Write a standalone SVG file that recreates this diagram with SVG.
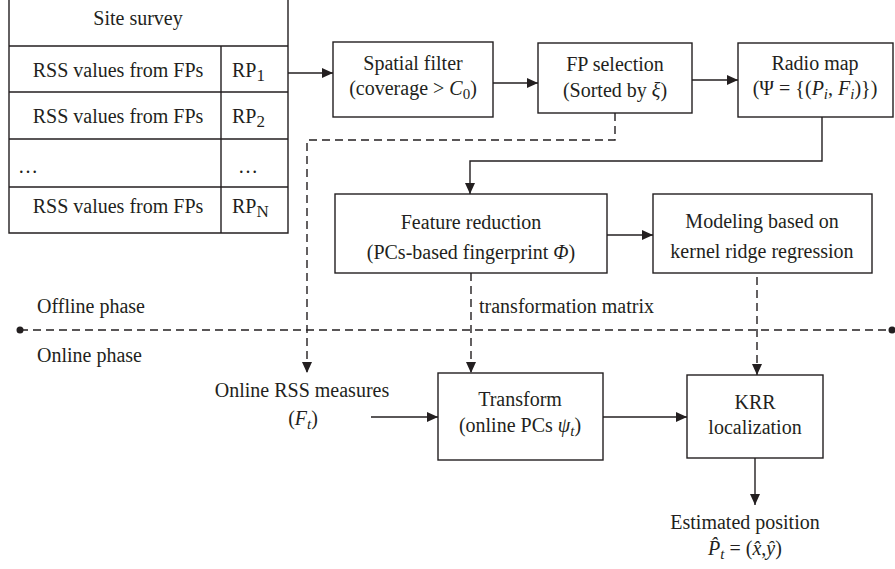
<svg xmlns="http://www.w3.org/2000/svg" width="895" height="569" viewBox="0 0 895 569">
<style>
text{font-family:'Liberation Serif','DejaVu Serif',serif;font-size:20px;fill:#231f20}
.c{text-anchor:middle}
.i{font-style:italic}
.box{fill:#fff;stroke:#231f20;stroke-width:1.4}
.ln{fill:none;stroke:#231f20;stroke-width:1.4}
.dash{fill:none;stroke:#231f20;stroke-width:1.4;stroke-dasharray:8,5}
</style>
<defs>
<marker id="ah" markerUnits="userSpaceOnUse" markerWidth="11" markerHeight="10" refX="11" refY="5" orient="auto">
<path d="M0,0 L11,5 L0,10 z" fill="#231f20"/>
</marker>
</defs>
<rect width="895" height="569" fill="#fff"/>

<g id="site-survey">
<path class="ln" d="M9,0 V233 H288 V0"/>
<path class="ln" d="M9,46 H288 M9,92 H288 M9,139 H288 M9,187 H288 M221,46 V233"/>
<text x="138" y="25" class="c">Site survey</text>
<text x="118" y="77" class="c">RSS values from FPs</text>
<text x="118" y="123" class="c">RSS values from FPs</text>
<text x="18" y="173">…</text>
<text x="248" y="173" class="c">…</text>
<text x="118" y="213" class="c">RSS values from FPs</text>
<text x="232" y="77">RP<tspan dy="4" font-size="17">1</tspan></text>
<text x="232" y="123">RP<tspan dy="4" font-size="17">2</tspan></text>
<text x="232" y="213">RP<tspan dy="4" font-size="17">N</tspan></text>
</g>

<g id="spatial-filter">
<rect class="box" x="333" y="42" width="160" height="75"/>
<text x="413" y="70" class="c">Spatial filter</text>
<text x="413" y="95" class="c">(coverage &gt; <tspan class="i">C</tspan><tspan dy="4" font-size="15">0</tspan><tspan dy="-4">)</tspan></text>
</g>

<g id="fp-selection">
<rect class="box" x="538" y="43" width="154" height="70"/>
<text x="615" y="71" class="c">FP selection</text>
<text x="615" y="97" class="c">(Sorted by <tspan class="i">ξ</tspan>)</text>
</g>

<g id="radio-map">
<rect class="box" x="738" y="43" width="155" height="74"/>
<text x="815" y="70" class="c">Radio map</text>
<text x="815" y="95" class="c">(Ψ = {(<tspan class="i">P</tspan><tspan class="i" dy="4" font-size="15">i</tspan><tspan dy="-4">, </tspan><tspan class="i">F</tspan><tspan class="i" dy="4" font-size="15">i</tspan><tspan dy="-4">)})</tspan></text>
</g>

<g id="feature-reduction">
<rect class="box" x="335" y="194" width="272" height="79"/>
<text x="471" y="229" class="c">Feature reduction</text>
<text x="471" y="259" class="c">(PCs-based fingerprint <tspan class="i">Φ</tspan>)</text>
</g>

<g id="modeling">
<rect class="box" x="653" y="194" width="219" height="79"/>
<text x="762" y="228" class="c">Modeling based on</text>
<text x="762" y="258" class="c">kernel ridge regression</text>
</g>

<g id="phases">
<text x="37" y="313">Offline phase</text>
<text x="37" y="362">Online phase</text>
<text x="479" y="313">transformation matrix</text>
</g>

<g id="online-rss">
<text x="302" y="397" class="c">Online RSS measures</text>
<text x="303" y="425" class="c">(<tspan class="i">F</tspan><tspan class="i" dy="4" font-size="15">t</tspan><tspan dy="-4">)</tspan></text>
</g>

<g id="transform">
<rect class="box" x="438" y="373" width="165" height="87"/>
<text x="520" y="406" class="c">Transform</text>
<text x="520" y="432" class="c">(online PCs <tspan class="i">ψ</tspan><tspan class="i" dy="4" font-size="15">t</tspan><tspan dy="-4">)</tspan></text>
</g>

<g id="krr">
<rect class="box" x="687" y="375" width="136" height="83"/>
<text x="755" y="409" class="c">KRR</text>
<text x="755" y="434" class="c">localization</text>
</g>

<g id="estimated">
<text x="745" y="529" class="c">Estimated position</text>
<text x="745" y="555" class="c"><tspan class="i">P̂</tspan><tspan class="i" dy="4" font-size="15">t</tspan><tspan dy="-4"> = (</tspan><tspan class="i">x̂</tspan>,<tspan class="i">ŷ</tspan>)</text>
</g>

<g id="connectors">
<line class="ln" x1="288" y1="73" x2="333" y2="73" marker-end="url(#ah)"/>
<line class="ln" x1="493" y1="83" x2="538" y2="83" marker-end="url(#ah)"/>
<line class="ln" x1="692" y1="80" x2="738" y2="80" stroke-width="2" marker-end="url(#ah)"/>
<path class="ln" d="M822,117 V161 H470 V194" marker-end="url(#ah)"/>
<path class="dash" d="M615,113 V140 H307 V373" marker-end="url(#ah)"/>
<line class="ln" x1="607" y1="235" x2="653" y2="235" marker-end="url(#ah)"/>
<line class="dash" x1="471" y1="273" x2="471" y2="373" marker-end="url(#ah)"/>
<line class="dash" x1="757" y1="277" x2="757" y2="375" marker-end="url(#ah)"/>
<line class="dash" x1="20" y1="330" x2="893" y2="330"/>
<circle cx="20" cy="330" r="3.5" fill="#231f20"/>
<circle cx="892" cy="330" r="3.5" fill="#231f20"/>
<line class="ln" x1="371" y1="417" x2="438" y2="417" marker-end="url(#ah)"/>
<line class="ln" x1="603" y1="417" x2="687" y2="417" marker-end="url(#ah)"/>
<line class="ln" x1="755" y1="458" x2="755" y2="505" marker-end="url(#ah)"/>
</g>
</svg>
